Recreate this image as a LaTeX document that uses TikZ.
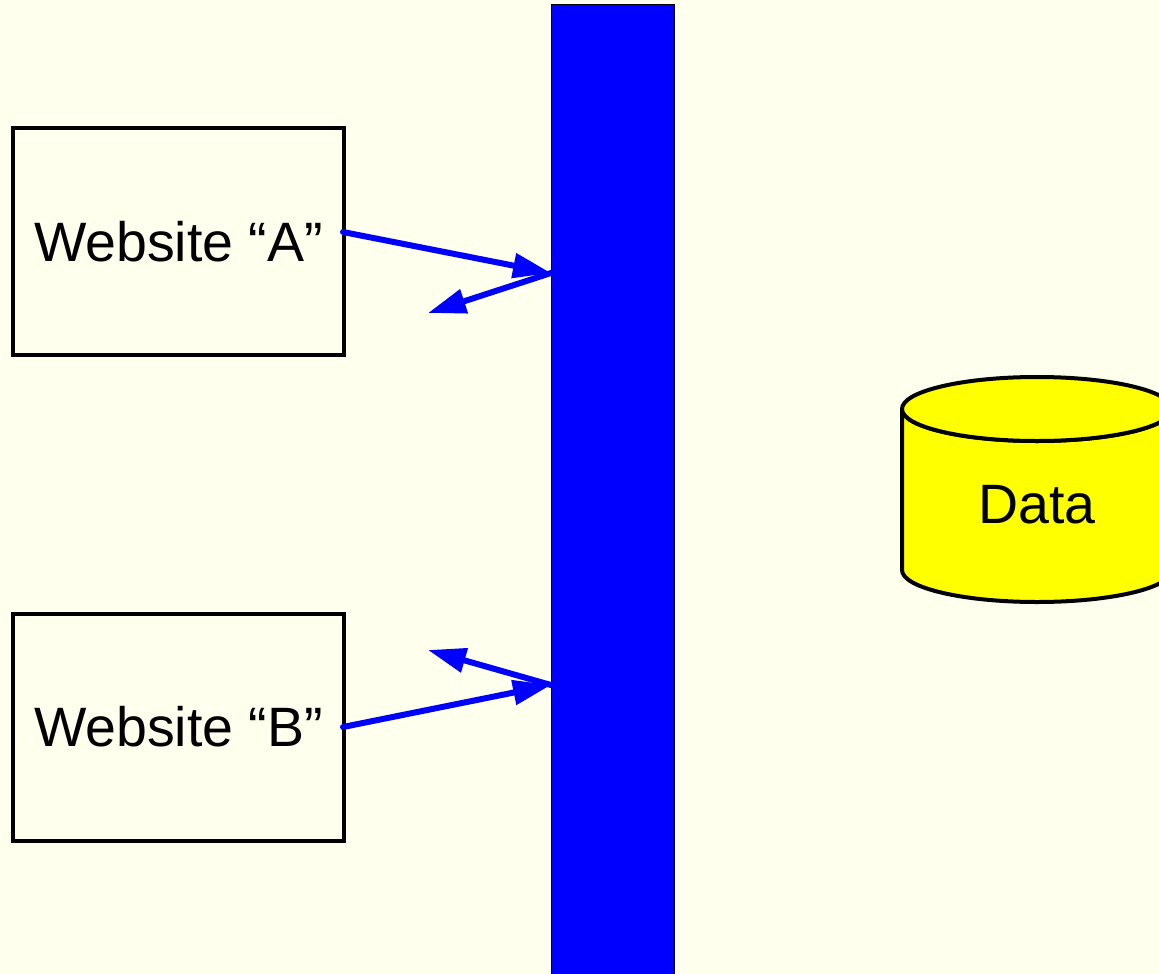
\documentclass[tikz,border=0pt]{standalone}
\usepackage{fontspec}
\setmainfont{Liberation Sans}
\usetikzlibrary{arrows.meta}
\definecolor{bgc}{HTML}{FFFFEE}
\definecolor{yel}{RGB}{255,255,0}
\definecolor{blu}{RGB}{0,0,255}
\tikzset{
  site/.style={draw=black, line width=4pt, minimum width=331pt, minimum height=227pt, inner sep=0pt, font=\fontsize{55.5}{60}\selectfont},
  conn/.style={draw=blu, line width=6pt, line cap=round, -{Triangle[length=38pt,width=24pt]}},
  busbar/.style={draw=black, line width=1.2pt, fill=blu, minimum width=123pt, minimum height=1010pt, inner sep=0pt, anchor=north west},
  cyl/.style={draw=black, line width=4pt, fill=yel, line join=round},
}
\begin{document}
\begin{tikzpicture}[x=1pt,y=-1pt]
\fill[bgc] (0,0) rectangle (1159,974);
\useasboundingbox (0,0) rectangle (1159,974);
\node[busbar] (bar) at (551,4) {};
\node[site] (A) at (178.5,241.5) {Website “A”};
\node[site] (B) at (178.5,727) {Website “B”};
% cylinder
\path[cyl] (902,409) -- (902,570) arc[start angle=180, end angle=360, x radius=135pt, y radius=32pt] -- (1172,409) arc[start angle=0, end angle=-180, x radius=135pt, y radius=32pt] -- cycle;
\draw[cyl] (1037,409) ellipse[x radius=135pt, y radius=32pt];
\node[font=\fontsize{55.5}{60}\selectfont] (data) at (1037,505) {Data};
% connector points
\coordinate (a1) at (343,232);
\coordinate (a2) at (551,273);
\coordinate (a3) at (428,313);
\coordinate (b1) at (343,727);
\coordinate (b2) at (551,685);
\coordinate (b3) at (428,650);
\draw[conn] (a1) -- (a2);
\draw[conn] (a2) -- (a3);
\draw[conn] (b1) -- (b2);
\draw[conn] (b2) -- (b3);
\end{tikzpicture}
\end{document}
